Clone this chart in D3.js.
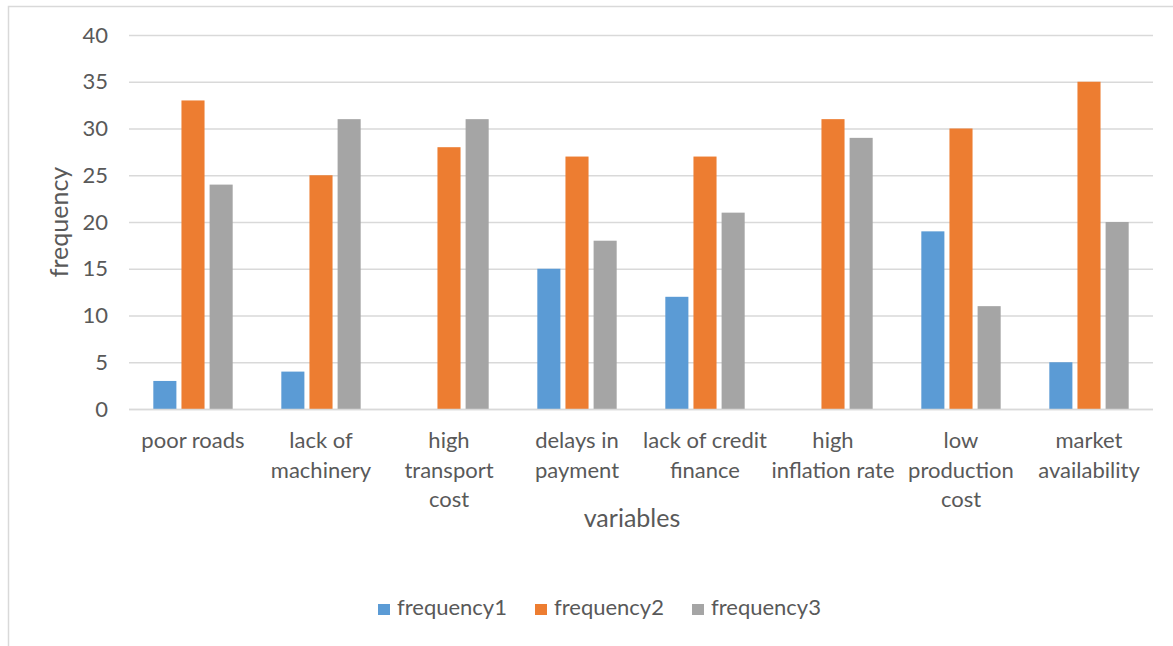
<!DOCTYPE html>
<html>
<head>
<meta charset="utf-8">
<script src="https://cdn.jsdelivr.net/npm/d3@7"></script>
<style>
  body { margin: 0; background: #fff; }
  svg text { font-family: Lato, "Open Sans", sans-serif; fill: #595959; }
</style>
</head>
<body>
<div id="chart"></div>
<script>
// data
const categories = ["poor roads", "lack of machinery", "high transport cost", "delays in payment",
  "lack of credit finance", "high inflation rate", "low production cost", "market availability"];
const categoryLines = [["poor roads"], ["lack of", "machinery"], ["high", "transport", "cost"],
  ["delays in", "payment"], ["lack of credit", "finance"], ["high", "inflation rate"],
  ["low", "production", "cost"], ["market", "availability"]];
const seriesNames = ["frequency1", "frequency2", "frequency3"];
const frequency1 = [3, 4, 0, 15, 12, 0, 19, 5];
const frequency2 = [33, 25, 28, 27, 27, 31, 30, 35];
const frequency3 = [24, 31, 31, 18, 21, 29, 11, 20];
const yTicks = [0, 5, 10, 15, 20, 25, 30, 35, 40];

const seriesValues = [frequency1, frequency2, frequency3];
const colors = ["#5B9BD5", "#ED7D31", "#A5A5A5"];

// layout
const W = 1173, H = 646;
const plot = { left: 129, right: 1153, top: 35, bottom: 409 };

const svg = d3.select("#chart").append("svg")
  .attr("width", W).attr("height", H);

// outer border (cut by the window at right / bottom)
svg.append("rect")
  .attr("x", 8.5).attr("y", 6.5)
  .attr("width", W + 20).attr("height", H + 20)
  .attr("fill", "none").attr("stroke", "#D9D9D9").attr("stroke-width", 1.5);

// scales
const x0 = d3.scaleBand().domain(categories).range([plot.left, plot.right])
  .paddingInner(0.38).paddingOuter(0.19);
const x1 = d3.scaleBand().domain(seriesNames).range([0, x0.bandwidth()]).paddingInner(0.18);
const y = d3.scaleLinear().domain([0, 40]).range([plot.bottom, plot.top]);
const color = d3.scaleOrdinal().domain(seriesNames).range(colors);

// gridlines + y tick labels
const gy = svg.append("g").attr("transform", `translate(${plot.left},0)`)
  .call(d3.axisLeft(y).tickValues(yTicks).tickSize(-(plot.right - plot.left)).tickPadding(21));
gy.select(".domain").remove();
gy.selectAll(".tick line").attr("stroke", "#D9D9D9").attr("stroke-width", 1.3);
gy.selectAll(".tick text").style("font-size", "22px").attr("fill", "#595959");

// bars
const groups = svg.append("g").selectAll("g")
  .data(categories)
  .join("g")
  .attr("transform", d => `translate(${x0(d)},0)`);

groups.selectAll("rect")
  .data((c, i) => seriesNames.map((s, k) => ({ key: s, value: seriesValues[k][i] })))
  .join("rect")
  .attr("x", d => x1(d.key))
  .attr("width", x1.bandwidth())
  .attr("y", d => y(d.value))
  .attr("height", d => y(0) - y(d.value))
  .attr("fill", d => color(d.key));

// x axis line
svg.append("line")
  .attr("x1", plot.left).attr("x2", plot.right)
  .attr("y1", y(0) + 0.5).attr("y2", y(0) + 0.5)
  .attr("stroke", "#D9D9D9").attr("stroke-width", 1.3);

// category labels
const catG = svg.append("g");
categories.forEach((c, i) => {
  const cx = x0(c) + x0.bandwidth() / 2;
  const t = catG.append("text")
    .attr("x", cx)
    .attr("y", 448)
    .attr("text-anchor", "middle")
    .style("font-size", "22px");
  categoryLines[i].forEach((line, j) => {
    t.append("tspan").attr("x", cx).attr("dy", j === 0 ? 0 : 29.5).text(line);
  });
});

// axis titles
svg.append("text")
  .attr("x", (plot.left + plot.right) / 2 - 9)
  .attr("y", 527)
  .attr("text-anchor", "middle")
  .style("font-size", "25px")
  .text("variables");

svg.append("text")
  .attr("transform", `translate(68,222) rotate(-90)`)
  .attr("text-anchor", "middle")
  .style("font-size", "25px")
  .text("frequency");

// legend
const legendX = [378, 535, 692];
const legend = svg.append("g");
seriesNames.forEach((s, i) => {
  legend.append("rect")
    .attr("x", legendX[i]).attr("y", 604)
    .attr("width", 12).attr("height", 11)
    .attr("fill", color(s));
  legend.append("text")
    .attr("x", legendX[i] + 19).attr("y", 615)
    .style("font-size", "22px")
    .text(s);
});
</script>
</body>
</html>
